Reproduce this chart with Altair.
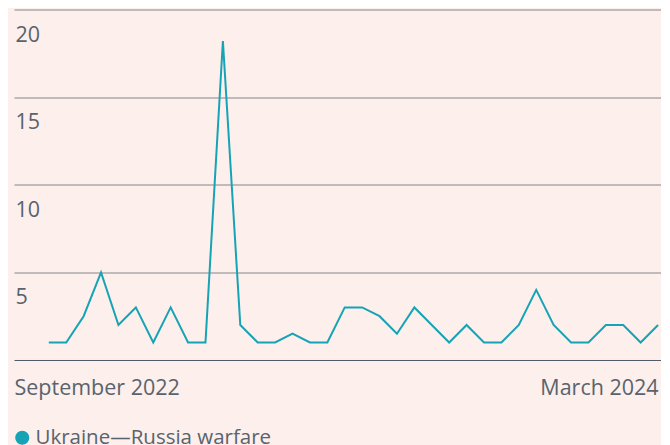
import altair as alt
import pandas as pd

series_name = "Ukraine\u2014Russia warfare"
values = [1, 1, 2.5, 5, 2, 3, 1, 3, 1, 1, 18.2, 2, 1, 1, 1.5, 1, 1, 3, 3, 2.5,
          1.5, 3, 2, 1, 2, 1, 1, 2, 4, 2, 1, 1, 2, 2, 1, 2]
period = list(range(len(values)))
x_tick_values = [-2, 35]
x_tick_labels = ["September 2022", "March 2024"]
y_tick_values = [5, 10, 15, 20]

df = pd.DataFrame({"period": period, "value": values, "series": series_name})

BG = "#fcefec"
TEXT = "#59636d"
TEAL = "#16a3b5"
GRID = "#85878a"
BASE = "#4e5a66"
FONT = "Open Sans"

label_expr = " : ".join(
    f"datum.value == {v} ? '{l}'" for v, l in zip(x_tick_values[:-1], x_tick_labels[:-1])
) + f" : '{x_tick_labels[-1]}'"
align_expr = f"datum.value == {x_tick_values[0]} ? 'left' : 'right'"

chart = alt.Chart(df).mark_line(strokeWidth=2).encode(
    x=alt.X(
        "period:Q",
        scale=alt.Scale(domain=[-2, 35.15], nice=False, zero=False),
        axis=alt.Axis(
            values=x_tick_values, labelExpr=label_expr, title=None, grid=False,
            ticks=False, tickSize=0, domain=True, domainColor=BASE, domainWidth=1,
            labelAlign={"expr": align_expr}, labelBaseline="alphabetic",
            labelPadding=35, labelFontSize=21.5, labelFont=FONT, labelColor=TEXT,
            labelFlush=False, labelOverlap=False, labelBound=False,
        ),
    ),
    y=alt.Y(
        "value:Q",
        scale=alt.Scale(domain=[0, 20], nice=False),
        axis=alt.Axis(
            values=y_tick_values, title=None, grid=True, gridColor=GRID, gridWidth=1,
            ticks=False, tickSize=0, domain=False, labelAlign="left",
            labelBaseline="alphabetic", labelPadding=-1, labelOffset=31.5,
            labelFontSize=21.5, labelFont=FONT, labelColor=TEXT,
            labelFlush=False, labelOverlap=False, labelBound=False,
        ),
    ),
    color=alt.Color(
        "series:N",
        scale=alt.Scale(domain=[series_name], range=[TEAL]),
        legend=alt.Legend(
            orient="none", legendX=-2, legendY=418, title=None, symbolType="circle",
            symbolSize=200, symbolFillColor=TEAL, symbolStrokeColor=TEAL,
            symbolStrokeWidth=0, labelFontSize=20.5, labelFont=FONT, labelColor=TEXT,
            labelLimit=500, padding=0, symbolOffset=0, labelOffset=3,
        ),
    ),
).properties(
    width=646.7,
    height=350.5,
    autosize=alt.AutoSizeParams(type="none"),
    padding={"left": 6, "top": 1.5, "right": 0, "bottom": 90},
    background=BG,
).configure_view(stroke=None)

chart.save("out.html", embed_options={"renderer": "svg", "actions": False})
